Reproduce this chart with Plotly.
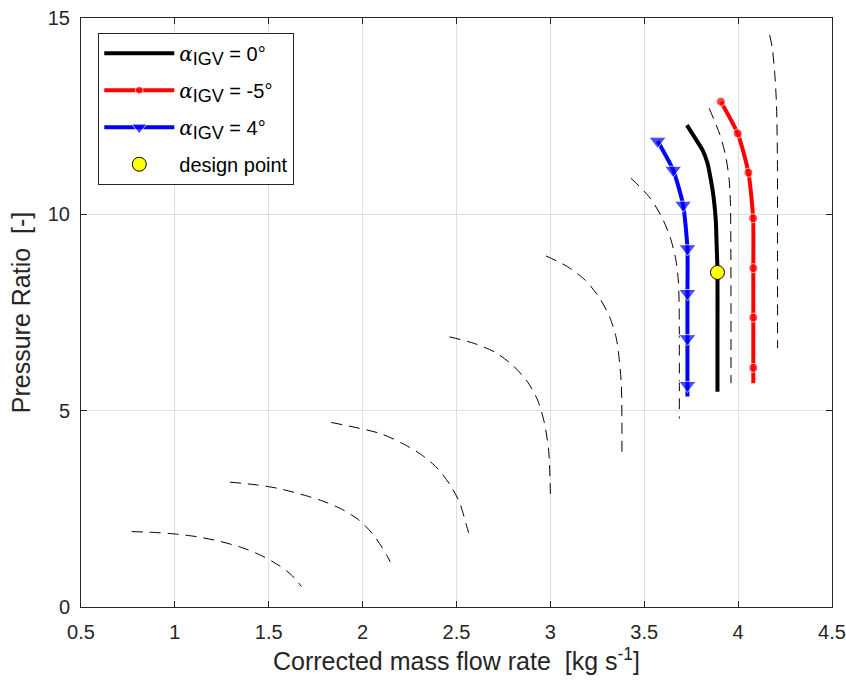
import plotly.graph_objects as go

# Speed lines (dashed)
speed_x = [
    [0.77, 0.885, 1.0, 1.117, 1.232, 1.346, 1.452, 1.55, 1.62, 1.674],
    [1.293, 1.434, 1.55, 1.665, 1.775, 1.881, 1.979, 2.059, 2.128, 2.147],
    [1.833, 1.984, 2.099, 2.206, 2.307, 2.397, 2.466, 2.518, 2.553, 2.565],
    [2.463, 2.596, 2.704, 2.796, 2.876, 2.932, 2.968, 2.991, 3.0],
    [2.977, 3.09, 3.186, 3.259, 3.316, 3.35, 3.367, 3.378, 3.381, 3.381],
    [3.429, 3.525, 3.59, 3.637, 3.668, 3.682, 3.686, 3.687, 3.687],
    [3.846, 3.902, 3.934, 3.952, 3.959, 3.961, 3.962, 3.962],
    [4.168, 4.182, 4.195, 4.204, 4.209, 4.21, 4.21],
]
speed_y = [
    [1.92, 1.90, 1.86, 1.79, 1.68, 1.53, 1.33, 1.07, 0.82, 0.52],
    [3.18, 3.11, 3.02, 2.88, 2.72, 2.51, 2.22, 1.83, 1.32, 1.15],
    [4.70, 4.55, 4.41, 4.18, 3.90, 3.54, 3.11, 2.64, 2.08, 1.89],
    [6.88, 6.71, 6.49, 6.17, 5.75, 5.27, 4.69, 3.96, 2.88],
    [8.94, 8.67, 8.32, 7.89, 7.38, 6.87, 6.30, 5.65, 4.80, 3.87],
    [10.92, 10.45, 9.96, 9.43, 8.85, 8.28, 7.61, 6.20, 4.80],
    [12.70, 12.04, 11.48, 10.89, 10.28, 9.43, 7.50, 5.70],
    [14.57, 14.23, 13.59, 12.83, 11.55, 9.00, 6.59],
]

# IGV lines
igv0_x = [3.727, 3.766, 3.81, 3.837, 3.855, 3.869, 3.881, 3.886, 3.89, 3.89, 3.89]
igv0_y = [12.27, 11.98, 11.64, 11.30, 10.87, 10.45, 9.85, 9.17, 8.58, 7.0, 5.48]

igvm5_x = [3.908, 3.998, 4.055, 4.08, 4.081, 4.081, 4.081, 4.081]
igvm5_y = [12.87, 12.06, 11.06, 9.90, 8.63, 7.37, 6.09, 5.70]

igv4_x = [3.571, 3.654, 3.707, 3.73, 3.73, 3.73, 3.73, 3.73]
igv4_y = [11.87, 11.13, 10.24, 9.13, 7.99, 6.84, 5.65, 5.36]

design_x = [3.89]
design_y = [8.52]

x_ticks = [0.5, 1, 1.5, 2, 2.5, 3, 3.5, 4, 4.5]
y_ticks = [0, 5, 10, 15]

FONT = "Liberation Sans, Arial, sans-serif"
AX = "#262626"
LFS = 20


def igv_label(val):
    return ("<i><span style=\"font-family:'DejaVu Serif'\">α</span></i>"
            f"<sub><span style=\"font-size:{LFS - 2}px\">IGV</span></sub> = {val}°")


fig = go.Figure()

for sx, sy in zip(speed_x, speed_y):
    fig.add_trace(go.Scatter(x=sx, y=sy, mode="lines", showlegend=False,
                             line=dict(color="black", width=1, dash="11px,7px",
                                       shape="spline", smoothing=0.8),
                             hoverinfo="skip"))

fig.add_trace(go.Scatter(x=igv0_x, y=igv0_y, mode="lines", name=igv_label("0"),
                         legendgroup="a",
                         line=dict(color="black", width=4, shape="spline", smoothing=0.5)))
fig.add_trace(go.Scatter(x=igvm5_x, y=igvm5_y, mode="lines+markers", name=igv_label("-5"),
                         legendgroup="b",
                         line=dict(color="#ff0000", width=4, shape="spline", smoothing=0.6),
                         marker=dict(symbol="circle", color="#ff0000",
                                     size=[9] * (len(igvm5_x) - 1) + [0])))
fig.add_trace(go.Scatter(x=igv4_x, y=igv4_y, mode="lines+markers", name=igv_label("4"),
                         legendgroup="c",
                         line=dict(color="#0000ff", width=4, shape="spline", smoothing=0.6),
                         marker=dict(symbol="triangle-down", color="#0000ff",
                                     size=[15] * (len(igv4_x) - 1) + [0])))
fig.add_trace(go.Scatter(x=design_x, y=design_y, mode="markers", name="design point",
                         legendgroup="d",
                         marker=dict(symbol="circle", color="#ffff00", size=14,
                                     line=dict(color="black", width=1))))

fig.update_layout(
    width=846, height=687,
    margin=dict(l=81, r=14, t=18, b=80, autoexpand=False),
    paper_bgcolor="white", plot_bgcolor="white",
    font=dict(family=FONT, color=AX, size=20),
    legend=dict(x=0.023, y=0.975, xanchor="left", yanchor="top",
                bgcolor="white", bordercolor=AX, borderwidth=1,
                font=dict(size=LFS, color="black"), itemwidth=70,
                traceorder="grouped", tracegroupgap=8),
    xaxis=dict(range=[0.5, 4.5], tickvals=x_ticks, ticktext=[f"{v:g}" for v in x_ticks],
               automargin=False,
               showgrid=True, gridcolor="#dfdfdf", gridwidth=1,
               showline=True, linecolor=AX, linewidth=1, mirror="allticks",
               ticks="inside", ticklen=6, tickcolor=AX, zeroline=False,
               tickfont=dict(size=20), ticklabelstandoff=7,
               title=dict(text="Corrected mass flow rate  [kg s<sup>-1</sup>]",
                          font=dict(size=25), standoff=10)),
    yaxis=dict(range=[0, 15], tickvals=y_ticks, automargin=False,
               showgrid=True, gridcolor="#dfdfdf", gridwidth=1,
               showline=True, linecolor=AX, linewidth=1, mirror="allticks",
               ticks="inside", ticklen=6, tickcolor=AX, zeroline=False,
               tickfont=dict(size=20), ticklabelstandoff=6,
               title=dict(text="Pressure Ratio  [-]", font=dict(size=25), standoff=10)),
)

fig.write_html("out.html")
